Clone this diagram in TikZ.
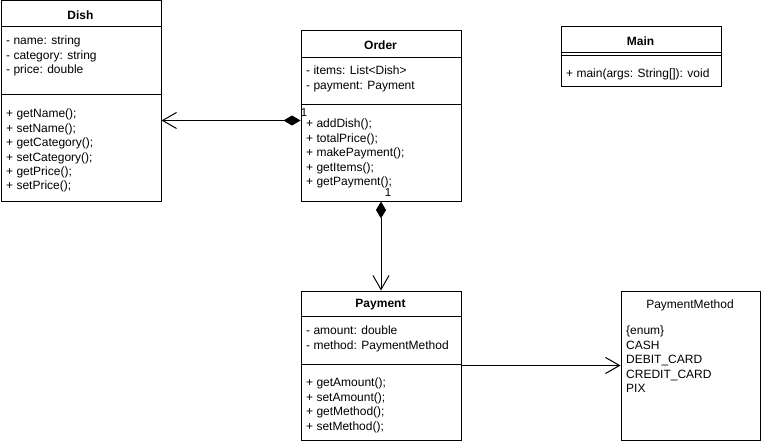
\documentclass[tikz,border=0pt]{standalone}
\usepackage{fontspec}
\setmainfont{Liberation Sans}
\usetikzlibrary{arrows.meta,positioning,calc}
\definecolor{ink}{HTML}{000000}
\tikzset{
  every node/.style={font=\fontsize{12}{14.4}\selectfont,text=ink},
  cls/.style={draw=ink,line width=1pt,fill=white,minimum width=160pt,anchor=north west,inner sep=0},
  sep/.style={draw=ink,line width=1pt},
  cname/.style={font=\bfseries\fontsize{12}{14.4}\selectfont,inner sep=0},
  members/.style={align=left,anchor=north west,inner sep=0},
  mult/.style={font=\fontsize{11.5}{13}\selectfont,inner sep=0},
  comp/.style={{Diamond[length=17pt,width=10pt]}-{Straight Barb[length=14pt,width=16pt]},line width=1pt,draw=ink},
  assoc/.style={-{Straight Barb[length=14pt,width=16pt]},line width=1pt,draw=ink}
}
\begin{document}
\begin{tikzpicture}[x=1pt,y=-1pt]
\path[use as bounding box] (0,0) rectangle (761,444);
% Dish
\node[cls,minimum height=200pt] (dish) at (0.5,0.5) {};
\draw[sep] (0.5,26.5) -- (160.5,26.5);
\draw[sep] (0.5,94.5) -- (160.5,94.5);
\node[cname] (dishname) at (80.5,15) {Dish};
\node[members] (dishattr) at (6,36) {- name: string\\- category: string\\- price: double};
\node[members] (dishops) at (6,109) {+ getName();\\+ setName();\\+ getCategory();\\+ setCategory();\\+ getPrice();\\+ setPrice();};
% Order
\node[cls,minimum height=170pt] (order) at (300.5,30.5) {};
\draw[sep] (300.5,57.5) -- (460.5,57.5);
\draw[sep] (300.5,104.5) -- (460.5,104.5);
\node[cname] (ordername) at (380.5,45) {Order};
\node[members] (orderattr) at (306,66) {- items: List<Dish>\\- payment: Payment};
\node[members] (orderops) at (306,119) {+ addDish();\\+ totalPrice();\\+ makePayment();\\+ getItems();\\+ getPayment();};
% Main
\node[cls,minimum height=60pt] (main) at (560.5,26.5) {};
\draw[sep] (560.5,52.5) -- (720.5,52.5);
\draw[sep] (560.5,55.5) -- (720.5,55.5);
\node[cname] (mainname) at (640.5,41) {Main};
\node[members] (mainops) at (566,69) {+ main(args: String[]): void};
% Payment
\node[cls,minimum height=149pt] (payment) at (300.5,290.5) {};
\draw[sep] (300.5,316.5) -- (460.5,316.5);
\draw[sep] (300.5,364.5) -- (460.5,364.5);
\node[cname] (paymentname) at (380.5,305) {Payment};
\node[members] (paymentattr) at (306,326) {- amount: double\\- method: PaymentMethod};
\node[members] (paymentops) at (306,378) {+ getAmount();\\+ setAmount();\\+ getMethod();\\+ setMethod();};
% PaymentMethod
\node[cls,minimum width=139pt,minimum height=149pt] (method) at (620.5,290.5) {};
\node[inner sep=0] (methodname) at (690,305) {PaymentMethod};
\node[members] (methodvals) at (626,326) {\{enum\}\\CASH\\DEBIT\_CARD\\CREDIT\_CARD\\PIX};
% relations
\coordinate (dishline) at (0,120.5);
\draw[comp] (order.west |- dishline) -- (dish.east |- dishline);
\node[mult] (dishmult) at (304,113) {1};
\draw[comp] (order.south) -- (payment.north);
\node[mult] (paymult) at (388,193) {1};
\draw[assoc] (payment.east) -- (method.west);
\end{tikzpicture}
\end{document}
